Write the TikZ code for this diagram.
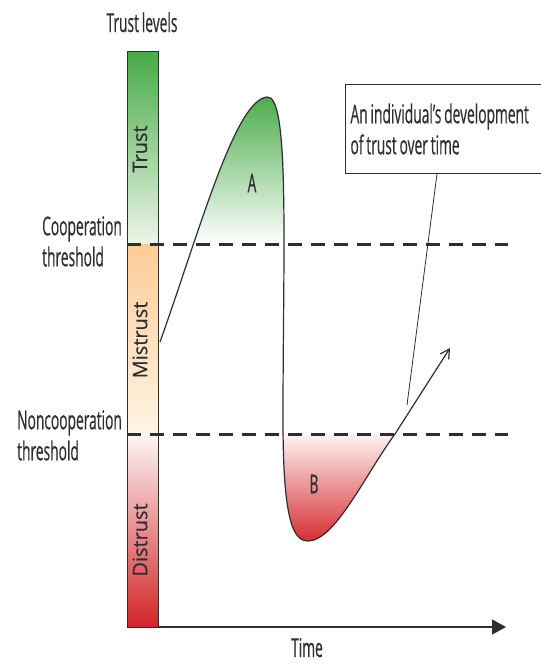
\documentclass[tikz,border=0pt]{standalone}
\usepackage{fontspec}
\setmainfont[FakeStretch=0.53, WordSpace=0.8, FakeBold=0.4]{Open Sans}
\newfontfamily\barfont[FakeBold=0.4]{Open Sans}
\usetikzlibrary{arrows.meta}

\definecolor{trustgreen}{RGB}{70,170,70}
\definecolor{trustpale}{RGB}{236,246,232}
\definecolor{mistrustorange}{RGB}{253,204,150}
\definecolor{mistrustpale}{RGB}{255,244,228}
\definecolor{distrustpale}{RGB}{252,246,244}
\definecolor{distrustred}{RGB}{212,36,40}
\definecolor{inkgray}{RGB}{45,45,50}

\tikzset{
  lbl/.style={font=\fontsize{26}{31}\selectfont, text=inkgray, inner sep=0pt},
  barlbl/.style={font=\barfont\fontsize{20}{24}\selectfont, text=inkgray, rotate=90, inner sep=0pt},
  threshold/.style={draw=inkgray, line width=3pt, dash pattern=on 14pt off 9pt},
  curve/.style={draw=inkgray, line width=1.2pt},
}

% trust development curve
\newcommand{\trustpath}{(160,342) .. controls (200,230) and (235,100) .. (267,97)
  .. controls (290,94) and (283,250) .. (283,420)
  .. controls (283,520) and (293,541) .. (308,541)
  .. controls (335,541) and (365,475) .. (395,434)}

\begin{document}
\begin{tikzpicture}[x=1pt,y=-1pt]
\useasboundingbox (0,0) rectangle (541,665);

% Trust level bar
\shade[top color=trustgreen, bottom color=trustpale] (127,51) rectangle (158,244);
\shade[top color=mistrustorange, bottom color=mistrustpale] (127,244) rectangle (158,434);
\shade[top color=distrustpale, bottom color=distrustred] (127,434) rectangle (158,627);
\draw[inkgray, line width=0.8pt] (127,51) rectangle (158,627);

\node[barlbl] (trustlbl) at (140,149) {Trust};
\node[barlbl] (mistrustlbl) at (140,340) {Mistrust};
\node[barlbl] (distrustlbl) at (140,540) {Distrust};

% Shaded regions A and B
\begin{scope}
\clip \trustpath -- cycle;
\shade[top color=trustgreen, bottom color=white] (180,92) rectangle (300,244);
\shade[top color=distrustpale!80!red!20, bottom color=distrustred] (275,434) rectangle (400,546);
\end{scope}

% Curve
\draw[curve, -{Straight Barb[length=9pt,width=10pt]}] \trustpath -- (450,348);

% Thresholds
\draw[threshold] (127,244) -- (508,244);
\draw[threshold] (127,434) -- (508,434);

% Time axis
\draw[inkgray, line width=1.5pt, -{Triangle[length=14pt,width=15pt]}] (158,627) -- (506,627);

% Labels
\node[lbl, anchor=base] (levels) at (142,32) {Trust levels};
\node[lbl, anchor=north west, align=left] (coop) at (42,216) {Cooperation\\threshold};
\node[lbl, anchor=north west, align=left] (noncoop) at (17,410) {Noncooperation\\threshold};
\node[lbl] (regionA) at (252,183) {A};
\node[lbl] (regionB) at (314,484) {B};
\node[lbl, anchor=base] (time) at (307,657) {Time};

% Note box
\node[draw=inkgray, line width=1pt, anchor=north west, minimum height=89pt, text width=195pt,
      inner xsep=5pt, inner ysep=0pt, align=flush left, font=\fontsize{26}{31}\selectfont, text=inkgray]
      (note) at (345,84) {An individual’s development\\of trust over time};
\coordinate (ptr) at (407,405);
\draw[inkgray, line width=0.8pt] ([xshift=92pt]note.south west) -- (ptr);
\end{tikzpicture}
\end{document}
